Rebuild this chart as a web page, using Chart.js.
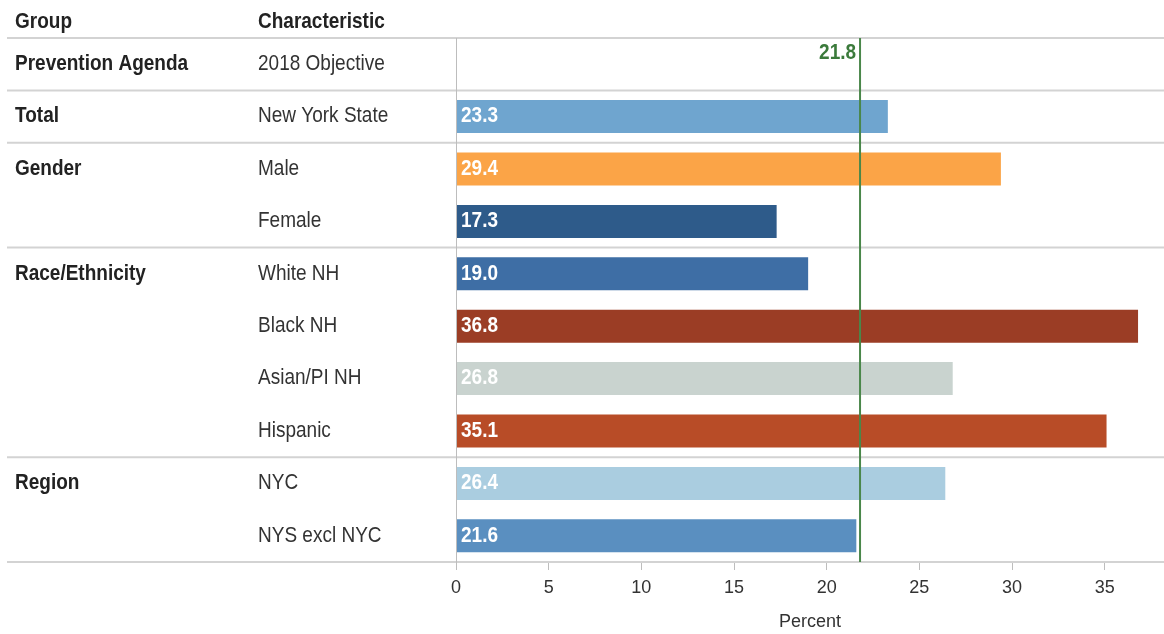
<!DOCTYPE html>
<html>
<head>
<meta charset="utf-8">
<script src="https://cdn.jsdelivr.net/npm/chart.js@4/dist/chart.umd.min.js"></script>
<style>
  html, body { margin: 0; padding: 0; background: #fff; }
  #wrap { width: 1164px; height: 634px; }
</style>
</head>
<body>
<div id="wrap"><canvas id="smokeChart"></canvas></div>
<script>
// rows of the table
const groups = ['Prevention Agenda', 'Total', 'Gender', '', 'Race/Ethnicity', '', '', '', 'Region', ''];
const characteristics = ['2018 Objective', 'New York State', 'Male', 'Female', 'White NH', 'Black NH', 'Asian/PI NH', 'Hispanic', 'NYC', 'NYS excl NYC'];
const percents = [null, 23.3, 29.4, 17.3, 19.0, 36.8, 26.8, 35.1, 26.4, 21.6];
const objective = 21.8;
const xTicks = [0, 5, 10, 15, 20, 25, 30, 35];

const barColors = ['#ffffff', '#6fa5cf', '#fba447', '#2e5b8a', '#3e6ea5', '#9b3d25', '#c9d3cf', '#b84c27', '#aacde0', '#5a8fc0'];

const FONT = '"Liberation Sans", Arial, sans-serif';

function drawText(ctx, text, x, y, font, color, align) {
    ctx.save();
    ctx.font = font;
    ctx.fillStyle = color;
    ctx.textAlign = align || 'left';
    ctx.textBaseline = 'middle';
    ctx.translate(x, y);
    ctx.scale(1, 1.12); // text in the original is a bit tall
    ctx.fillText(text, 0, 0);
    ctx.restore();
}

// table columns, separators, objective line and value labels
const tablePlugin = {
    id: 'tablePlugin',
    afterDatasetsDraw(chart) {
        const ctx = chart.ctx;
        const area = chart.chartArea;
        const y = chart.scales.y;
        const x = chart.scales.x;

        // header
        drawText(ctx, 'Group', 15, 22, 'bold 19px ' + FONT, '#222');
        drawText(ctx, 'Characteristic', 258, 22, 'bold 19px ' + FONT, '#222');

        // row texts
        characteristics.forEach((c, i) => {
            const py = y.getPixelForValue(i);
            if (groups[i]) drawText(ctx, groups[i], 15, py, 'bold 19px ' + FONT, '#222');
            drawText(ctx, c, 258, py, '19px ' + FONT, '#333');
        });

        // separators between groups
        ctx.save();
        ctx.strokeStyle = '#d3d3d3';
        ctx.lineWidth = 2;
        const lines = [area.top, area.bottom];
        groups.forEach((g, i) => {
            if (i > 0 && g) lines.push((y.getPixelForValue(i - 1) + y.getPixelForValue(i)) / 2);
        });
        lines.forEach((ly) => {
            ctx.beginPath();
            ctx.moveTo(7, ly);
            ctx.lineTo(area.right, ly);
            ctx.stroke();
        });

        // left edge of the plot
        ctx.strokeStyle = '#bdbdbd';
        ctx.lineWidth = 1;
        ctx.beginPath();
        ctx.moveTo(area.left + 0.5, area.top);
        ctx.lineTo(area.left + 0.5, area.bottom + 8);
        ctx.stroke();

        // objective line
        const ox = x.getPixelForValue(objective);
        ctx.strokeStyle = '#4a874a';
        ctx.lineWidth = 2;
        ctx.beginPath();
        ctx.moveTo(ox, area.top);
        ctx.lineTo(ox, area.bottom);
        ctx.stroke();
        ctx.restore();
        drawText(ctx, objective.toFixed(1), ox - 4, 53, 'bold 19px ' + FONT, '#3b7a3b', 'right');

        // value labels inside the bars
        const meta = chart.getDatasetMeta(0);
        meta.data.forEach((bar, i) => {
            if (percents[i] == null) return;
            drawText(ctx, percents[i].toFixed(1), area.left + 5, bar.y, 'bold 19px ' + FONT, '#ffffff');
        });
    }
};

const ctx = document.getElementById('smokeChart').getContext('2d');
new Chart(ctx, {
    type: 'bar',
    data: {
        labels: characteristics,
        datasets: [{
            data: percents,
            backgroundColor: barColors,
            borderWidth: 0,
            barPercentage: 0.63,
            categoryPercentage: 1
        }]
    },
    options: {
        indexAxis: 'y',
        responsive: true,
        maintainAspectRatio: false,
        animation: false,
        layout: { padding: { left: 456, top: 38, right: 0, bottom: 0 } },
        plugins: {
            legend: { display: false },
            tooltip: { enabled: false }
        },
        scales: {
            y: {
                display: false,
                offset: true
            },
            x: {
                min: 0,
                max: 38.2,
                afterFit(scale) { scale.height = 72; },
                afterBuildTicks(scale) { scale.ticks = xTicks.map((v) => ({ value: v })); },
                border: { display: false },
                grid: { drawOnChartArea: false, drawTicks: true, tickLength: 8, tickColor: '#bdbdbd' },
                ticks: {
                    padding: 7,
                    color: '#333',
                    font: { family: FONT, size: 18 }
                },
                title: {
                    display: true,
                    text: 'Percent',
                    color: '#333',
                    font: { family: FONT, size: 18 },
                    padding: { top: 0, bottom: 1 }
                }
            }
        }
    },
    plugins: [tablePlugin]
});
</script>
</body>
</html>
